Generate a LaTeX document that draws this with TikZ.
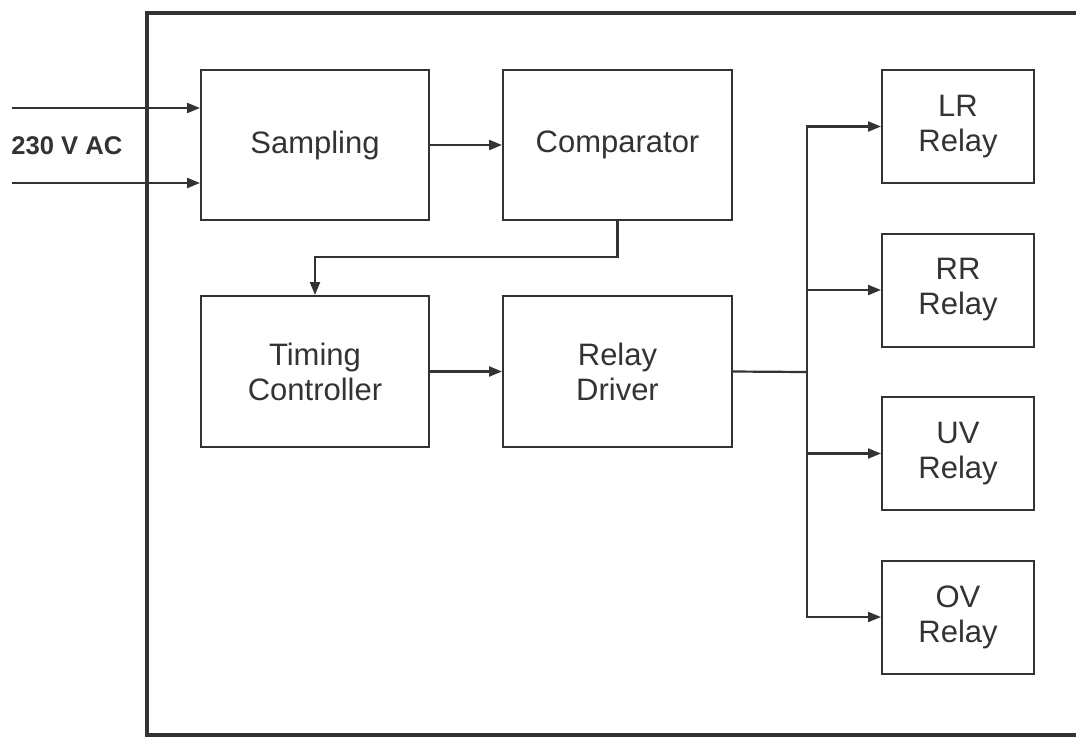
\documentclass[tikz,border=0pt]{standalone}
\usepackage{fontspec}
\setmainfont{Liberation Sans}
\usetikzlibrary{arrows.meta}
\definecolor{ink}{gray}{0.2}
\begin{document}
\begin{tikzpicture}[x=0.5pt,y=-0.5pt,
  blk/.style={draw=ink,line width=1pt,rectangle,inner sep=0pt,align=center,
    text=ink,font=\fontsize{15.5}{17.5}\selectfont},
  arr/.style={draw=ink,line width=1.1pt,-{Triangle[length=6.5pt,width=5pt]}},
  ln/.style={draw=ink,line width=1.1pt}]
\useasboundingbox (0,0) rectangle (1076,736);
\clip (0,0) rectangle (1076,736);
% outer frame
\draw[draw=ink,line width=2pt] (147,13) rectangle (1100,735);
% blocks
\node[blk,minimum width=114pt,minimum height=75pt] (samp) at (315,145) {Sampling};
\node[blk,minimum width=114.5pt,minimum height=75pt] (comp) at (617.5,145) {Comparator};
\node[blk,minimum width=114pt,minimum height=75.5pt] (tim) at (315,371.5) {Timing\\Controller};
\node[blk,minimum width=114.5pt,minimum height=75.5pt] (drv) at (617.5,371.5) {Relay\\Driver};
\node[blk,minimum width=76pt,minimum height=56.5pt] (lr) at (958,126.5) {LR\\Relay};
\node[blk,minimum width=76pt,minimum height=56.5pt] (rr) at (958,290) {RR\\Relay};
\node[blk,minimum width=76pt,minimum height=56.5pt] (uv) at (958,453.5) {UV\\Relay};
\node[blk,minimum width=76pt,minimum height=56.5pt] (ov) at (958,617) {OV\\Relay};
% input label
\node[anchor=west,inner sep=0pt,text=ink,font=\fontsize{12.8}{14}\selectfont\bfseries] (lbl) at (11,146) {230 V AC};
% inputs
\coordinate (in1) at (12,108);
\coordinate (in2) at (12,183);
\draw[arr] (in1) -- (in1 -| samp.west);
\draw[arr] (in2) -- (in2 -| samp.west);
% chain
\draw[arr] (samp.east) -- (comp.west);
\coordinate (mid) at (315,257);
\draw[arr] (comp.south) |- (mid) -- (tim.north);
\draw[arr] (tim.east) -- (drv.west);
\coordinate (bus) at (807,372);
\draw[ln] (drv.east) -- (bus);
\draw[arr] (bus) |- (lr.west);
\draw[arr] (bus) |- (rr.west);
\draw[arr] (bus) |- (uv.west);
\draw[arr] (bus) |- (ov.west);
\end{tikzpicture}
\end{document}
